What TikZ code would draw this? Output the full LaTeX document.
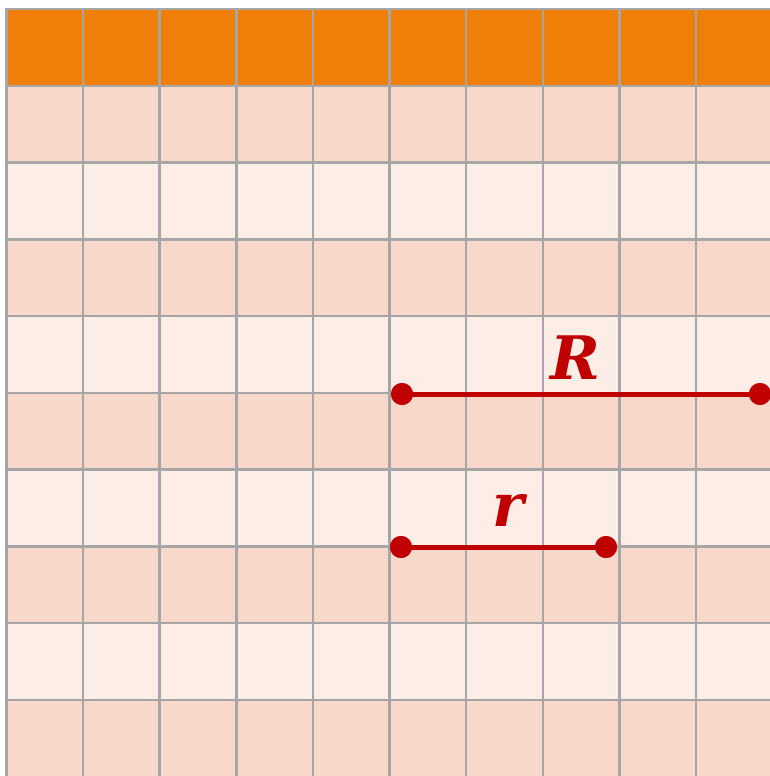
\documentclass[tikz,border=0pt]{standalone}
\usepackage{fontspec}
\newfontfamily\lblfont{DejaVu Serif}
\definecolor{headorange}{RGB}{240,127,10}
\definecolor{rowdark}{RGB}{249,216,204}
\definecolor{rowlight}{RGB}{252,237,230}
\definecolor{gridgrey}{RGB}{166,166,166}
\definecolor{segred}{RGB}{192,0,0}
\tikzset{
  gridline/.style={draw=gridgrey, line width=2.5pt},
  seg/.style={draw=segred, line width=5pt},
  enddot/.style={circle, fill=segred, minimum size=22pt, inner sep=0pt},
  lbl/.style={text=segred, font=\lblfont\bfseries\itshape\fontsize{60}{60}\selectfont, inner sep=0pt, anchor=base}
}
\begin{document}
\begin{tikzpicture}[x=1pt,y=-1pt]
\useasboundingbox (0,0) rectangle (770,776);
\begin{scope}
\clip (0,0) rectangle (770,776);
\fill[white] (0,0) rectangle (770,776);
\foreach \i in {0,...,9} {
  \pgfmathsetmacro{\ya}{9+\i*76.75}
  \pgfmathsetmacro{\yb}{9+(\i+1)*76.75}
  \ifnum\i=0
    \fill[headorange] (6.5,\ya) rectangle (790,\yb);
  \else
    \ifodd\i
      \fill[rowdark] (6.5,\ya) rectangle (790,\yb);
    \else
      \fill[rowlight] (6.5,\ya) rectangle (790,\yb);
    \fi
  \fi
}
\foreach \i in {0,...,9} {
  \pgfmathsetmacro{\xx}{6.5+\i*76.62}
  \draw[gridline] (\xx,7.75) -- (\xx,790);
}
\foreach \i in {0,...,9} {
  \pgfmathsetmacro{\yy}{9+\i*76.75}
  \draw[gridline] (5.25,\yy) -- (790,\yy);
}
\end{scope}
\node[enddot] (Ra) at (402,394) {};
\node[enddot] (Rb) at (760,394) {};
\node[enddot] (ra) at (401,547) {};
\node[enddot] (rb) at (606,547) {};
\draw[seg] (Ra.center) -- (Rb.center);
\draw[seg] (ra.center) -- (rb.center);
\node[enddot] at (Ra.center) {};
\node[enddot] at (Rb.center) {};
\node[enddot] at (ra.center) {};
\node[enddot] at (rb.center) {};
\node[lbl] (Rlabel) at (575,379) {R};
\node[lbl] (rlabel) at (508,526) {r};
\end{tikzpicture}
\end{document}
